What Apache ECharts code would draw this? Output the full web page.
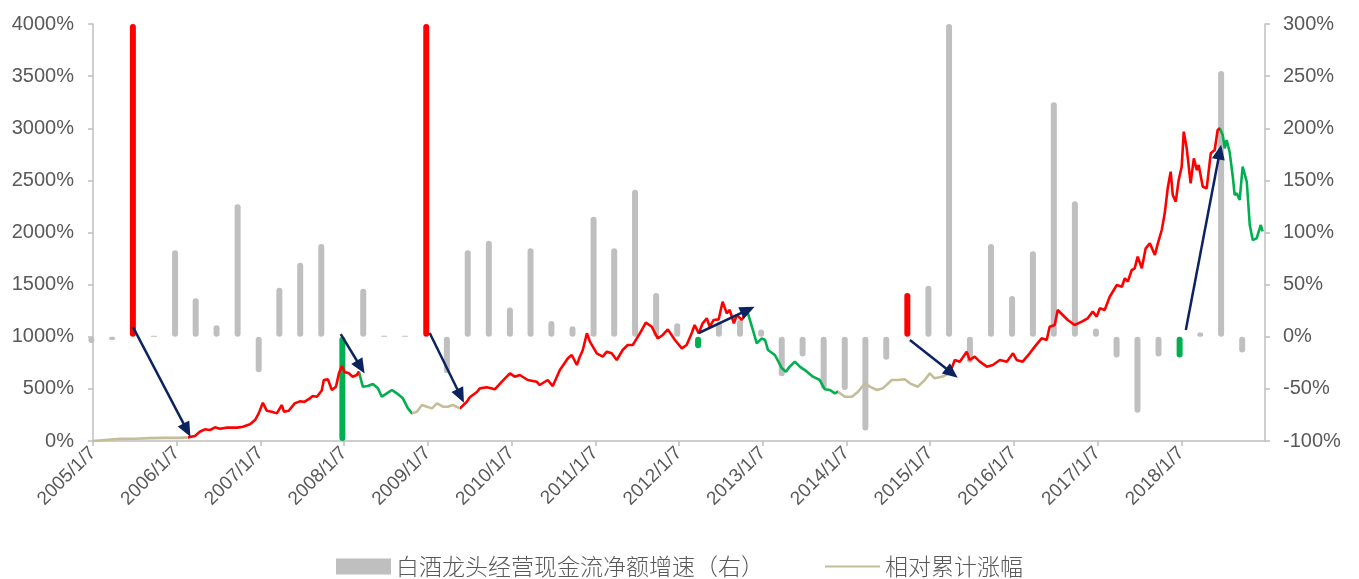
<!DOCTYPE html>
<html>
<head>
<meta charset="utf-8">
<script src="https://cdn.jsdelivr.net/npm/echarts@6/dist/echarts.min.js"></script>
<style>
  html, body { margin: 0; padding: 0; background: #ffffff; }
  #chart { width: 1359px; height: 579px; }
</style>
</head>
<body>
<div id="chart"></div>
<script>
// Weekly relative cumulative return of the liquor leaders (left axis, %)
const lineDates = [
  '2005-01-07','2005-02-28','2005-05-05','2005-07-09','2005-09-13','2005-11-17','2006-01-21','2006-02-25',
  '2006-03-28','2006-04-18','2006-05-10','2006-06-01','2006-06-23','2006-07-15','2006-08-15','2006-09-27',
  '2006-10-23','2006-11-23','2006-12-15','2006-12-31','2007-01-18','2007-02-04','2007-02-26','2007-03-20',
  '2007-04-11','2007-04-20','2007-05-11','2007-06-06','2007-06-28','2007-07-20','2007-08-11','2007-08-24',
  '2007-09-11','2007-10-02','2007-10-11','2007-10-29','2007-11-15','2007-12-03','2007-12-16','2007-12-29',
  '2008-01-10','2008-01-28','2008-02-14','2008-03-03','2008-03-12','2008-03-29','2008-04-20','2008-05-12',
  '2008-06-03','2008-06-20','2008-07-12','2008-08-03','2008-08-25','2008-09-20','2008-10-12','2008-10-30',
  '2008-11-20','2008-12-12','2009-01-03','2009-01-25','2009-02-16','2009-03-14','2009-04-05','2009-04-26',
  '2009-05-27','2009-06-26','2009-07-09','2009-08-09','2009-08-22','2009-09-21','2009-10-26','2009-11-26',
  '2009-12-31','2010-01-21','2010-02-12','2010-03-19','2010-04-27','2010-05-10','2010-06-14','2010-07-06',
  '2010-08-06','2010-09-10','2010-09-27','2010-10-19','2010-11-01','2010-11-14','2010-12-02','2010-12-15',
  '2011-01-14','2011-02-09','2011-02-27','2011-03-20','2011-04-11','2011-05-07','2011-05-29','2011-06-20',
  '2011-07-21','2011-08-16','2011-09-11','2011-10-07','2011-10-29','2011-11-20','2011-12-21','2012-01-20',
  '2012-02-10','2012-03-03','2012-03-16','2012-04-03','2012-04-20','2012-05-08','2012-05-21','2012-06-07',
  '2012-06-29','2012-07-16','2012-08-03','2012-08-16','2012-09-03','2012-09-16','2012-10-07','2012-10-25',
  '2012-11-03','2012-11-25','2012-12-12','2013-01-03','2013-01-17','2013-01-30','2013-03-01','2013-04-01',
  '2013-04-18','2013-05-05','2013-05-27','2013-06-18','2013-07-19','2013-08-14','2013-09-13','2013-10-05',
  '2013-10-27','2013-11-18','2013-12-01','2013-12-31','2014-01-31','2014-02-26','2014-03-28','2014-04-19',
  '2014-05-20','2014-06-15','2014-07-24','2014-08-19','2014-09-19','2014-10-11','2014-11-15','2014-12-15',
  '2015-01-06','2015-01-27','2015-02-27','2015-04-03','2015-04-25','2015-05-17','2015-06-16','2015-06-29',
  '2015-07-21','2015-08-12','2015-09-12','2015-10-08','2015-11-08','2015-12-08','2016-01-04','2016-01-20',
  '2016-02-15','2016-03-17','2016-04-08','2016-05-08','2016-05-30','2016-06-12','2016-07-04','2016-07-17',
  '2016-08-08','2016-08-30','2016-09-29','2016-10-30','2016-11-25','2016-12-17','2017-01-03','2017-01-17',
  '2017-02-07','2017-03-01','2017-04-01','2017-04-23','2017-05-06','2017-05-19','2017-06-05','2017-06-18',
  '2017-07-01','2017-07-19','2017-08-05','2017-08-23','2017-09-14','2017-09-27','2017-10-14','2017-10-27',
  '2017-11-09','2017-11-22','2017-12-01','2017-12-14','2017-12-27','2018-01-09','2018-01-18','2018-01-31',
  '2018-02-17','2018-03-03','2018-03-16','2018-03-24','2018-04-11','2018-04-28','2018-05-16','2018-06-02',
  '2018-06-15','2018-06-24','2018-07-07','2018-07-16','2018-07-24','2018-08-06','2018-08-20','2018-08-28',
  '2018-09-06','2018-09-19','2018-10-02','2018-10-20','2018-11-02','2018-11-15','2018-12-02','2018-12-20',
  '2018-12-28'
];
const lineValues = [
  0, 10, 20, 22, 28, 30, 30, 35,
  48, 89, 112, 105, 131, 118, 128, 128,
  137, 160, 201, 265, 367, 291, 281, 265,
  345, 281, 290, 361, 380, 377, 409, 431,
  425, 485, 585, 591, 489, 521, 649, 719,
  662, 649, 617, 633, 665, 521, 527, 547,
  505, 425, 457, 489, 457, 409, 313, 265,
  281, 345, 329, 313, 361, 329, 329, 345,
  313, 377, 420, 470, 505, 515, 496, 569,
  649, 617, 633, 585, 569, 537, 585, 527,
  681, 793, 825, 729, 809, 873, 1033, 953,
  841, 809, 857, 841, 777, 873, 921, 921,
  1033, 1135, 1096, 985, 1017, 1071, 969, 889,
  921, 1033, 1113, 1033, 1129, 1177, 1096, 1161,
  1167, 1336, 1225, 1257, 1129, 1209, 1161, 1225,
  1230, 1065, 937, 985, 969, 873, 825, 697,
  665, 713, 761, 713, 665, 617, 585, 496,
  489, 457, 473, 425, 425, 470, 553, 521,
  489, 505, 585, 585, 592, 553, 521, 585,
  649, 601, 617, 649, 777, 761, 857, 777,
  809, 761, 713, 729, 777, 761, 841, 777,
  761, 841, 905, 985, 969, 1096, 1113, 1257,
  1209, 1161, 1113, 1145, 1177, 1241, 1193, 1273,
  1257, 1384, 1496, 1480, 1561, 1528, 1640, 1657,
  1768, 1657, 1848, 1896, 1784, 1896, 2024, 2184,
  2424, 2583, 2360, 2296, 2504, 2631, 2967, 2807,
  2471, 2711, 2599, 2647, 2439, 2424, 2760, 2791,
  2983, 3000, 2935, 2807, 2887, 2775, 2535, 2360,
  2376, 2312, 2631, 2487, 2072, 1928, 1944, 2072,
  2010
];

// Phases of the return line: the colour switches on each date below
const phaseBreaks = ['2006-02-25','2008-03-12','2008-10-30','2009-05-27','2012-10-30','2013-12-01','2015-04-03','2018-06-24'];
const phaseColors = ['#C4BD97','#FF0000','#00B050','#C4BD97','#FF0000','#00B050','#C4BD97','#FF0000','#00B050'];

// Quarterly growth of net operating cash flow (right axis, %), by report date
const barDates = [
  '2004-12-31','2005-03-31','2005-06-30','2005-09-30','2005-12-31','2006-03-31','2006-06-30','2006-09-30',
  '2006-12-31','2007-03-31','2007-06-30','2007-09-30','2007-12-31','2008-03-31','2008-06-30','2008-09-30',
  '2008-12-31','2009-03-31','2009-06-30','2009-09-30','2009-12-31','2010-03-31','2010-06-30','2010-09-30',
  '2010-12-31','2011-03-31','2011-06-30','2011-09-30','2011-12-31','2012-03-31','2012-06-30','2012-09-30',
  '2012-12-31','2013-03-31','2013-06-30','2013-09-30','2013-12-31','2014-03-31','2014-06-30','2014-09-30',
  '2014-12-31','2015-03-31','2015-06-30','2015-09-30','2015-12-31','2016-03-31','2016-06-30','2016-09-30',
  '2016-12-31','2017-03-31','2017-06-30','2017-09-30','2017-12-31','2018-03-31','2018-06-30','2018-09-30'
];
const barValues = [
  -6, -3, 400, 1, 83, 37, 11, 127,
  -34, 47, 71, 89, -100, 46, 1, 1,
  400, -35, 83, 92, 28, 85, 15, 10,
  115, 85, 141, 42, 13, -11, 14, 16,
  7, -38, -19, -50, -51, -90, -22, 42,
  49, 400, -25, 89, 39, 82, 225, 130,
  8, -20, -73, -19, -20, 4, 255, -15
];
// 1 = turning point up (red), -1 = turning point down (green), 0 = ordinary quarter
const barSignal = [
  0, 0, 1, 0, 0, 0, 0, 0,
  0, 0, 0, 0, -1, 0, 0, 0,
  1, 0, 0, 0, 0, 0, 0, 0,
  0, 0, 0, 0, 0, -1, 0, 0,
  0, 0, 0, 0, 0, 0, 0, 1,
  0, 0, 0, 0, 0, 0, 0, 0,
  0, 0, 0, 0, -1, 0, 0, 0
];

// Arrows from each turning-point quarter to the matching turn of the return line
const arrowFromDates = ['2005-06-30','2007-12-24','2009-01-15','2012-04-03','2014-10-11','2018-01-27'];
const arrowFromValues = [1094, 1026, 1036, 1036, 969, 1065];
const arrowToDates = ['2006-02-21','2008-03-20','2009-05-30','2012-11-03','2015-04-12','2018-06-24'];
const arrowToValues = [105, 710, 432, 1257, 652, 2772];

const NAME_BAR = '白酒龙头经营现金流净额增速（右）';
const NAME_LINE = '相对累计涨幅';

// The horizontal axis counts years from 2005/1/7
const ORIGIN = Date.UTC(2005, 0, 7);
const YEAR_MS = 365.25 * 86400000;
function toYears(s) {
  const p = s.split('-').map(Number);
  return (Date.UTC(p[0], p[1] - 1, p[2]) - ORIGIN) / YEAR_MS;
}

const TEXT = '#595959';
const AXIS = '#BFBFBF';
const LATIN = '"Liberation Sans", Arial, sans-serif';
const CJK = '"Noto Sans CJK SC", sans-serif';
const pct = v => v + '%';

const lineData = lineDates.map((d, i) => [toYears(d), lineValues[i]]);

const barData = barDates.map((d, i) => {
  const item = { value: [toYears(d), barValues[i]] };
  if (barSignal[i] === 1) item.itemStyle = { color: '#FF0000' };
  if (barSignal[i] === -1) item.itemStyle = { color: '#00B050' };
  return item;
});

const pieces = phaseColors.map((c, i) => {
  const p = { color: c };
  if (i > 0) p.gte = toYears(phaseBreaks[i - 1]);
  if (i < phaseBreaks.length) p.lt = toYears(phaseBreaks[i]);
  return p;
});

const arrows = arrowFromDates.map((d, i) => [
  { coord: [toYears(d), arrowFromValues[i]] },
  { coord: [toYears(arrowToDates[i]), arrowToValues[i]] }
]);

const chart = echarts.init(document.getElementById('chart'), null, { renderer: 'canvas' });
chart.setOption({
  animation: false,
  backgroundColor: '#ffffff',
  grid: { left: 93, right: 94, top: 24, bottom: 138, containLabel: false },
  legend: {
    data: [
      { name: NAME_BAR, icon: 'rect' },
      { name: NAME_LINE, itemStyle: { opacity: 0 } }
    ],
    left: 'center',
    top: 555,
    padding: 0,
    itemWidth: 55,
    itemHeight: 16,
    itemGap: 60,
    textStyle: { fontFamily: CJK, fontSize: 23, color: TEXT, fontWeight: 300 }
  },
  visualMap: {
    type: 'piecewise',
    show: false,
    seriesIndex: 1,
    dimension: 0,
    pieces: pieces
  },
  xAxis: {
    type: 'value',
    min: 0,
    max: 14,
    interval: 1,
    splitLine: { show: false },
    axisLine: { show: true, onZero: false, lineStyle: { color: AXIS, width: 1.5 } },
    axisTick: { show: true, length: 5, lineStyle: { color: AXIS, width: 1.5 } },
    axisLabel: {
      rotate: 45,
      margin: 9,
      fontFamily: LATIN,
      fontSize: 19,
      color: TEXT,
      showMaxLabel: false,
      formatter: v => (v < 14 ? (2005 + Math.round(v)) + '/1/7' : '')
    }
  },
  yAxis: [
    {
      type: 'value',
      min: 0,
      max: 4000,
      interval: 500,
      position: 'left',
      splitLine: { show: false },
      axisLine: { show: true, lineStyle: { color: AXIS, width: 1.5 } },
      axisTick: { show: true, length: 5, lineStyle: { color: AXIS, width: 1.5 } },
      axisLabel: { fontFamily: LATIN, fontSize: 20, color: TEXT, margin: 19, formatter: pct }
    },
    {
      type: 'value',
      min: -100,
      max: 300,
      interval: 50,
      position: 'right',
      splitLine: { show: false },
      axisLine: { show: true, lineStyle: { color: AXIS, width: 1.5 } },
      axisTick: { show: true, length: 5, lineStyle: { color: AXIS, width: 1.5 } },
      axisLabel: { fontFamily: LATIN, fontSize: 20, color: TEXT, margin: 18, formatter: pct }
    }
  ],
  series: [
    {
      name: NAME_BAR,
      type: 'bar',
      yAxisIndex: 1,
      barWidth: 6,
      clip: true,
      itemStyle: { color: '#BFBFBF', borderRadius: 3 },
      data: barData,
      z: 2
    },
    {
      name: NAME_LINE,
      type: 'line',
      yAxisIndex: 0,
      symbol: 'none',
      showSymbol: false,
      color: '#C4BD97',
      lineStyle: { width: 2.6 },
      data: lineData,
      z: 3
    },
    {
      name: 'arrows',
      type: 'line',
      yAxisIndex: 0,
      data: [],
      z: 5,
      markLine: {
        silent: true,
        animation: false,
        symbol: ['none', 'triangle'],
        symbolSize: [13, 15],
        label: { show: false },
        lineStyle: { color: '#0B2460', width: 2.5, type: 'solid' },
        emphasis: { disabled: true },
        data: arrows
      }
    }
  ]
});
</script>
</body>
</html>
